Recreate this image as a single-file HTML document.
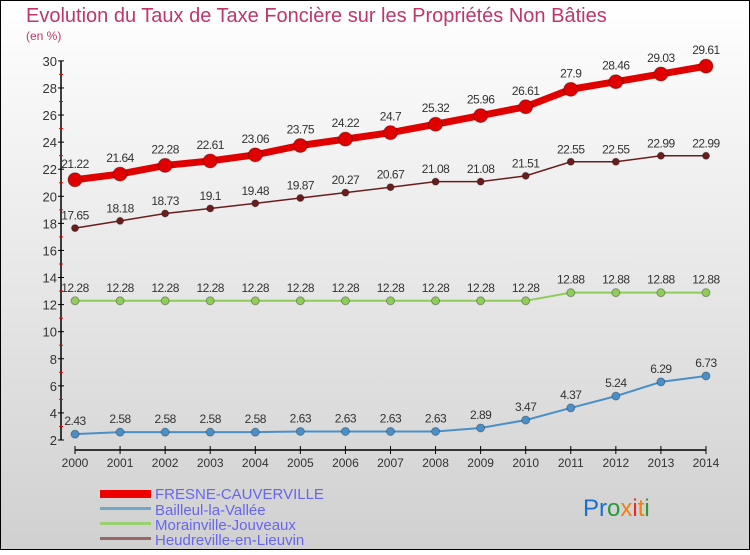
<!DOCTYPE html>
<html><head><meta charset="utf-8"><style>
body{margin:0;width:750px;height:550px;overflow:hidden;font-family:"Liberation Sans",sans-serif}
</style></head><body>
<svg id="c" width="750" height="550" xmlns="http://www.w3.org/2000/svg">
<defs><linearGradient id="bg" x1="0" y1="0" x2="0" y2="1"><stop offset="0" stop-color="#ffffff"/><stop offset="1" stop-color="#d0d0d0"/></linearGradient></defs>
<rect x="0.5" y="0.5" width="749" height="549" fill="url(#bg)" stroke="#000"/>
<text x="26" y="22" font-size="20" fill="#c0356a">Evolution du Taux de Taxe Foncière sur les Propriétés Non Bâties</text>
<text x="26" y="40" font-size="12" fill="#c0356a">(en %)</text>
<g id="axes"></g><g id="series"></g>
<g>
<rect x="100" y="490" width="51" height="8" fill="#e00"/>
<text x="155" y="499" font-size="15" fill="#6666ee">FRESNE-CAUVERVILLE</text>
<rect x="100" y="507" width="51" height="3" fill="#6fa8c8"/>
<text x="155" y="515" font-size="15" fill="#6666ee">Bailleul-la-Vallée</text>
<rect x="100" y="522" width="51" height="3" fill="#99d070"/>
<text x="155" y="530" font-size="15" fill="#6666ee">Morainville-Jouveaux</text>
<rect x="100" y="537" width="51" height="3" fill="#996666"/>
<text x="155" y="545" font-size="15" fill="#6666ee">Heudreville-en-Lieuvin</text>
</g>
<text x="583" y="516" font-size="24"><tspan fill="#1a6fd0">Pr</tspan><tspan fill="#2a9a3a">o</tspan><tspan fill="#f08010">x</tspan><tspan fill="#e03020">i</tspan><tspan fill="#f08010">t</tspan><tspan fill="#2a9a3a">i</tspan></text>
</svg>
<script>
const years=[2000,2001,2002,2003,2004,2005,2006,2007,2008,2009,2010,2011,2012,2013,2014];
const fresne=[21.22,21.64,22.28,22.61,23.06,23.75,24.22,24.7,25.32,25.96,26.61,27.9,28.46,29.03,29.61];
const bailleul=[2.43,2.58,2.58,2.58,2.58,2.63,2.63,2.63,2.63,2.89,3.47,4.37,5.24,6.29,6.73];
const morainville=[12.28,12.28,12.28,12.28,12.28,12.28,12.28,12.28,12.28,12.28,12.28,12.88,12.88,12.88,12.88];
const heudreville=[17.65,18.18,18.73,19.1,19.48,19.87,20.27,20.67,21.08,21.08,21.51,22.55,22.55,22.99,22.99];
const yTicks=[2,4,6,8,10,12,14,16,18,20,22,24,26,28,30];
const NS="http://www.w3.org/2000/svg";
const X=i=>75+i*45.07, Y=v=>440-(v-2)*13.54;
function mk(p,t,a){const e=document.createElementNS(NS,t);for(const k in a)e.setAttribute(k,a[k]);p.appendChild(e);return e;}
const ax=document.getElementById('axes');
const yl=mk(ax,'line',{x1:61,y1:Y(30),x2:61,y2:Y(2),stroke:'#000','stroke-width':1.5});


const xl=mk(ax,'line',{x1:75,y1:450,x2:706,y2:450,stroke:'#000','stroke-width':1.5});


yTicks.forEach(v=>{mk(ax,'line',{x1:58,x2:64,y1:Y(v),y2:Y(v),stroke:'#000'});
if(v<30)mk(ax,'line',{x1:59,x2:63,y1:Y(v+1),y2:Y(v+1),stroke:'#e00'});
const t=mk(ax,'text',{x:57,y:Y(v)+5,'font-size':13,'text-anchor':'end',fill:'#333'});t.textContent=v;

});
years.forEach((y,i)=>{mk(ax,'line',{x1:X(i),x2:X(i),y1:446,y2:454,stroke:'#000'});
const t=mk(ax,'text',{x:X(i),y:467,'font-size':12,'text-anchor':'middle',fill:'#333'});t.textContent=y;

});
const sg=document.getElementById('series');
function series(d,col,w,r,name,fs){const g=mk(sg,'g',{});


mk(g,'polyline',{points:d.map((v,i)=>X(i)+','+Y(v)).join(' '),fill:'none',stroke:col,'stroke-width':w});
d.forEach((v,i)=>{const c=mk(g,'circle',{cx:X(i),cy:Y(v),r:r,fill:col,stroke:'rgba(0,0,0,0.3)'});


const t=mk(g,'text',{x:X(i),y:Y(v)-r-5,'font-size':fs,'text-anchor':'middle',fill:'#333','letter-spacing':'-0.5'});t.textContent=v;

});}
series(bailleul,'#4a90c8',2,4,'bailleul-series',12);
series(morainville,'#8fcc5a',2,4,'morainville-series',12);
series(heudreville,'#6b1d1d',1.5,3.5,'heudreville-series',12);
series(fresne,'#e00000',7,7,'fresne-series',12);
</script>
</body></html>
